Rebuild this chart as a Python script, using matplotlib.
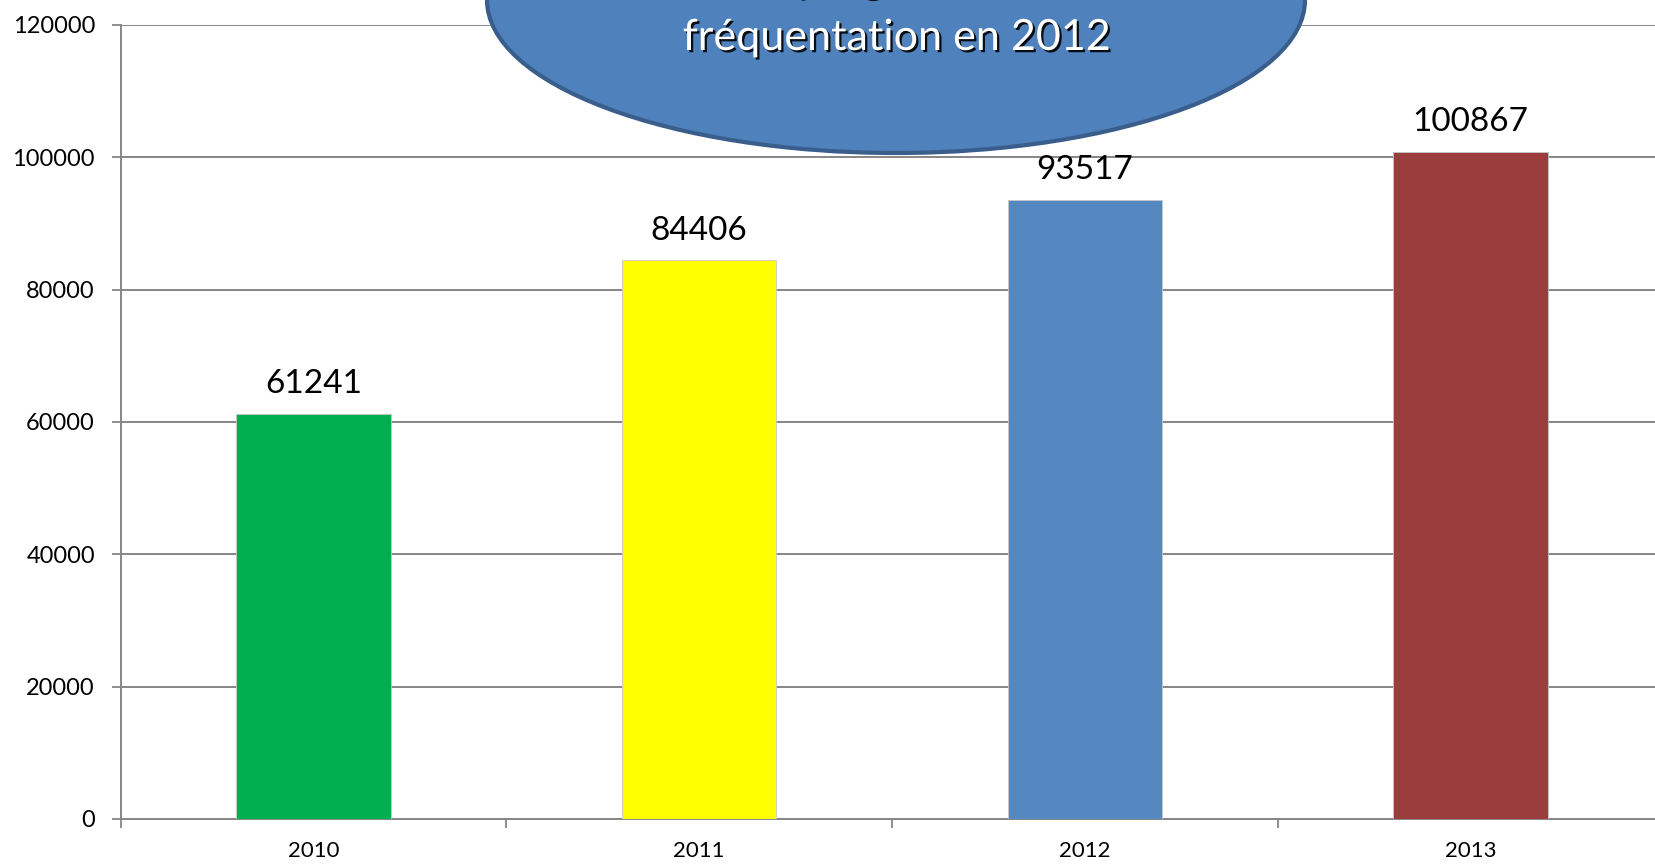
import matplotlib
matplotlib.use("Agg")
from matplotlib import pyplot as plt
from matplotlib.patches import Ellipse
import matplotlib.patheffects as pe

# données
years = ["2010", "2011", "2012", "2013"]
visits = [61241, 84406, 93517, 100867]
bar_colors = ["#00B050", "#FFFF00", "#5587C1", "#9B3D3D"]
y_ticks = [0, 20000, 40000, 60000, 80000, 100000, 120000]
bubble_lines = ["Nette progression de la", "fréquentation en 2012"]

plt.rcParams['font.family'] = ['Lato', 'DejaVu Sans']

fig = plt.figure(figsize=(16.55, 8.64), dpi=100)
# l'axe dépasse à droite comme dans l'original
ax = fig.add_axes([0.0729, 0.0521, 0.9321, 0.919])

x = list(range(len(years)))
bars = ax.bar(x, visits, width=0.4, color=bar_colors,
              edgecolor="#c8c8c8", linewidth=0.6, zorder=3)

# étiquettes au-dessus des barres
for xi, v in zip(x, visits):
    ax.annotate(str(v), (xi, v), xytext=(0, 15), textcoords="offset points",
                ha="center", va="baseline", fontsize=24, color="black")

ax.set_xlim(-0.5, len(years) - 0.5)
ax.set_ylim(0, 120000)
ax.set_yticks(y_ticks)
ax.set_yticklabels([str(t) for t in y_ticks])

# graduations entre les catégories, libellés au centre
ax.set_xticks([i - 0.5 for i in range(len(years) + 1)])
ax.set_xticklabels([])
ax.set_xticks(x, minor=True)
ax.set_xticklabels(years, minor=True)
ax.tick_params(axis="x", which="major", length=6.5, width=1.3, color="#868686", direction="out")
ax.tick_params(axis="x", which="minor", length=0, pad=16, labelsize=16)
ax.tick_params(axis="y", length=6.5, width=1.3, color="#868686", direction="out",
               pad=12, labelsize=17)

ax.grid(axis="y", color="#868686", linewidth=1.4, zorder=0)
ax.set_axisbelow(True)
for s in ["top", "right"]:
    ax.spines[s].set_visible(False)
for s in ["left", "bottom"]:
    ax.spines[s].set_color("#868686")
    ax.spines[s].set_linewidth(1.4)

# bulle de commentaire en haut
bubble = Ellipse((896 / 1655, 1.0), 818 / 1655, 306 / 864, transform=fig.transFigure,
                 facecolor="#4F81BD", edgecolor="#3A5E8C", linewidth=3, zorder=5)
fig.add_artist(bubble)

shadow = [pe.SimplePatchShadow(offset=(1.6, -1.6), shadow_rgbFace="black", alpha=0.9), pe.Normal()]
fig.text(896 / 1655, 1 + 9 / 864, bubble_lines[0], ha="center", va="baseline",
         fontsize=31, color="white", zorder=6, path_effects=shadow)
fig.text(896 / 1655, 1 - 50 / 864, bubble_lines[1], ha="center", va="baseline",
         fontsize=31, color="white", zorder=6, path_effects=shadow)

fig.savefig("out.png", dpi=100)
